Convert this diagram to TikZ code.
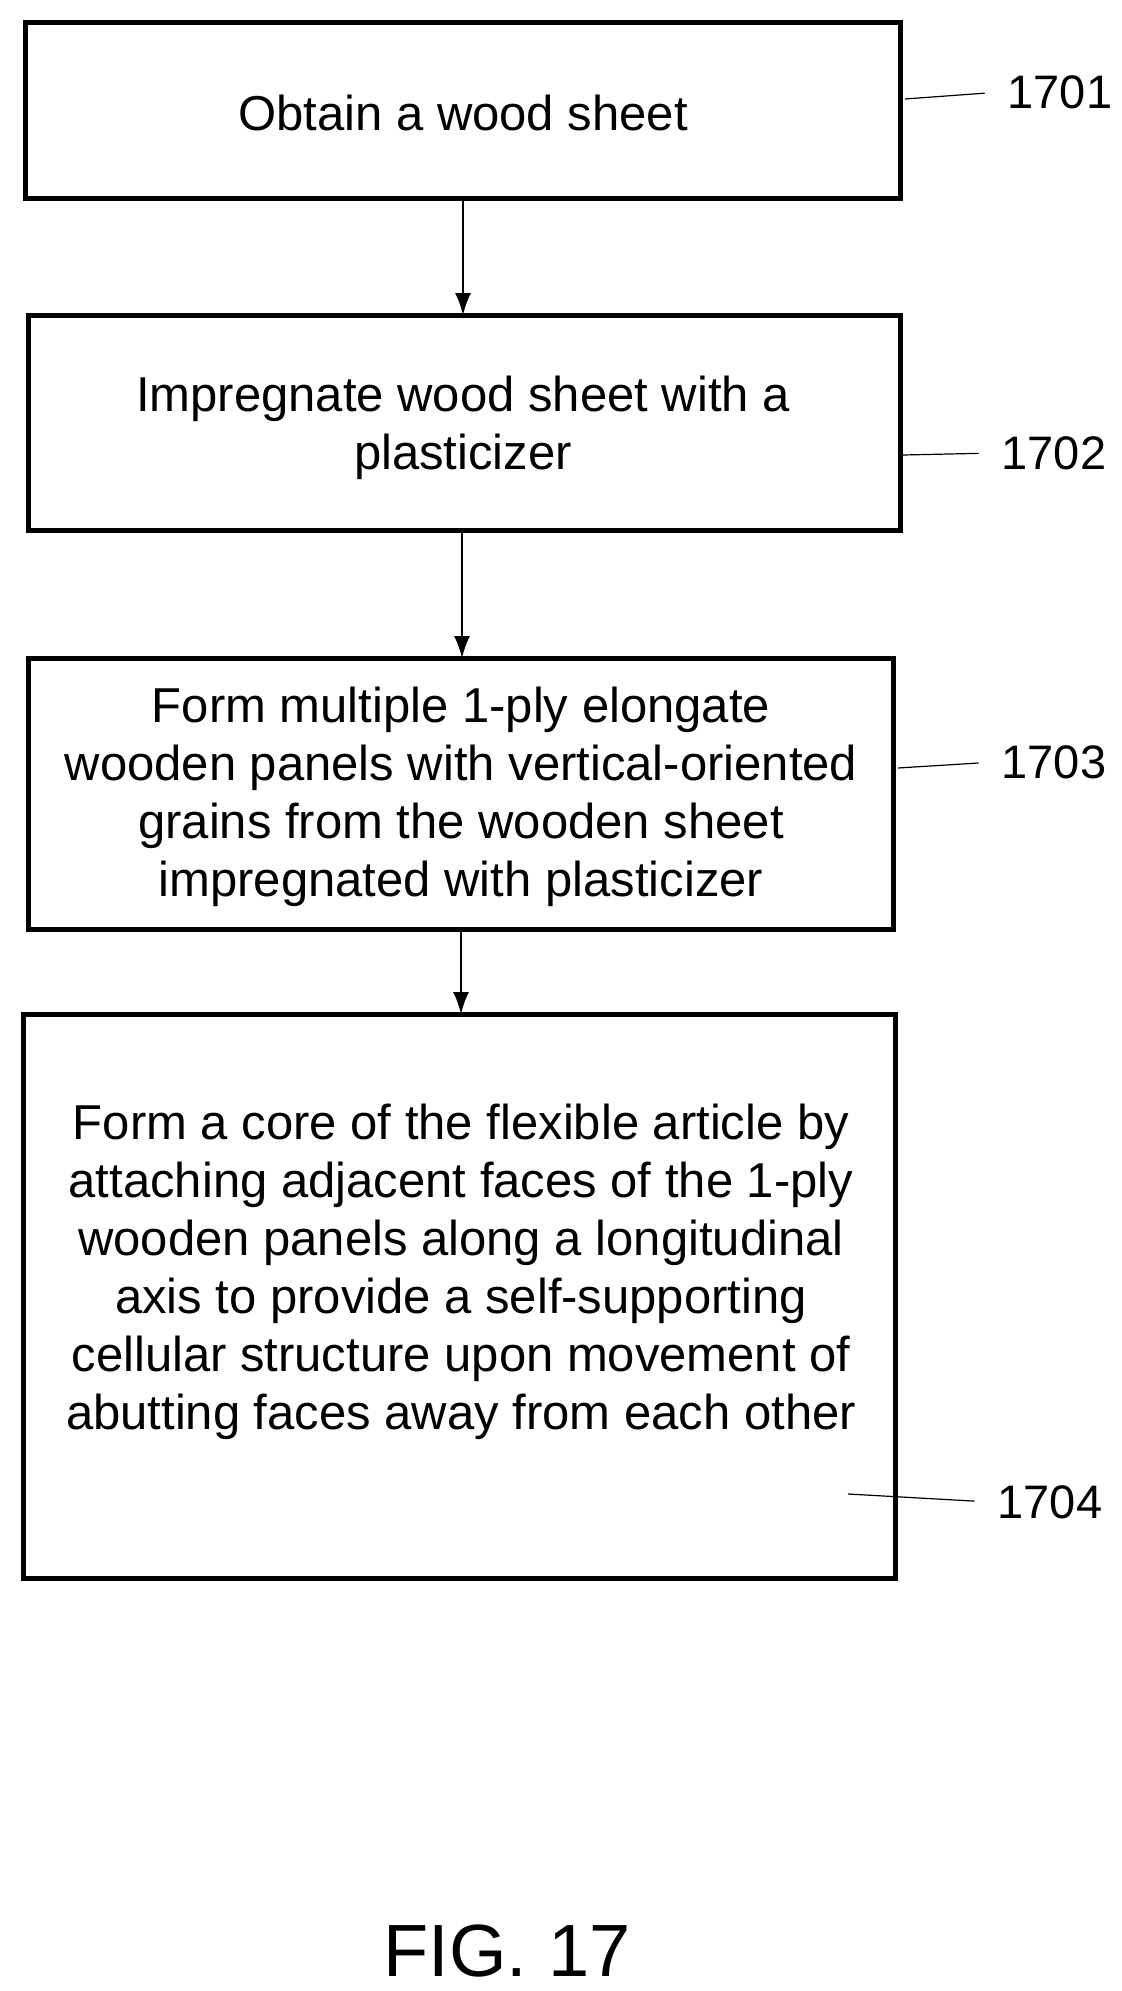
\documentclass[tikz,border=0pt]{standalone}
\usepackage{fontspec}
\setmainfont{Liberation Sans}
\usetikzlibrary{arrows.meta}
\begin{document}
\begin{tikzpicture}[x=0.5pt,y=-0.5pt,
  boxst/.style={draw,line width=2.5pt},
  txt/.style={align=center,font=\fontsize{24.5}{29}\selectfont},
  lbl/.style={font=\fontsize{23.5}{29}\selectfont},
  arr/.style={-{Latex[length=11pt,width=8pt]},line width=0.8pt},
  lead/.style={line width=0.6pt,shorten >=8pt}]
\useasboundingbox (0,0) rectangle (1122,1991);
\draw[boxst] (25,23) rectangle (900,198);
\draw[boxst] (28,315) rectangle (900,530);
\draw[boxst] (28,658) rectangle (893,929);
\draw[boxst] (23,1014) rectangle (895,1578);
\node[txt] (t1) at (463,113) {Obtain a wood sheet};
\node[txt] (t2) at (463,428) {Impregnate wood sheet with a\\plasticizer};
\node[txt] (t3) at (461,797) {Form multiple 1-ply elongate\\wooden panels with vertical-oriented\\grains from the wooden sheet\\impregnated with plasticizer};
\node[txt] (t4) at (461,1272) {Form a core of the flexible article by\\attaching adjacent faces of the 1-ply\\wooden panels along a longitudinal\\axis to provide a self-supporting\\cellular structure upon movement of\\abutting faces away from each other};
\coordinate (b1) at (463,198); \coordinate (a2) at (463,315);
\coordinate (b2) at (462,530); \coordinate (a3) at (462,658);
\coordinate (b3) at (461,929); \coordinate (a4) at (461,1014);
\draw[arr] (b1) -- (a2);
\draw[arr] (b2) -- (a3);
\draw[arr] (b3) -- (a4);
\node[lbl] (l1) at (1060,92) {1701};
\node[lbl] (l2) at (1054,453) {1702};
\node[lbl] (l3) at (1054,762) {1703};
\node[lbl] (l4) at (1050,1502) {1704};
\coordinate (s1) at (905,99); \coordinate (s2) at (903,455);
\coordinate (s3) at (898,768); \coordinate (s4) at (848,1494);
\draw[lead] (s1) -- (l1.west);
\draw[lead] (s2) -- (l2.west);
\draw[lead] (s3) -- (l3.west);
\draw[lead] (s4) -- (l4.west);
\node[font=\fontsize{37}{42}\selectfont] (fig) at (507,1951) {FIG. 17};
\end{tikzpicture}
\end{document}
